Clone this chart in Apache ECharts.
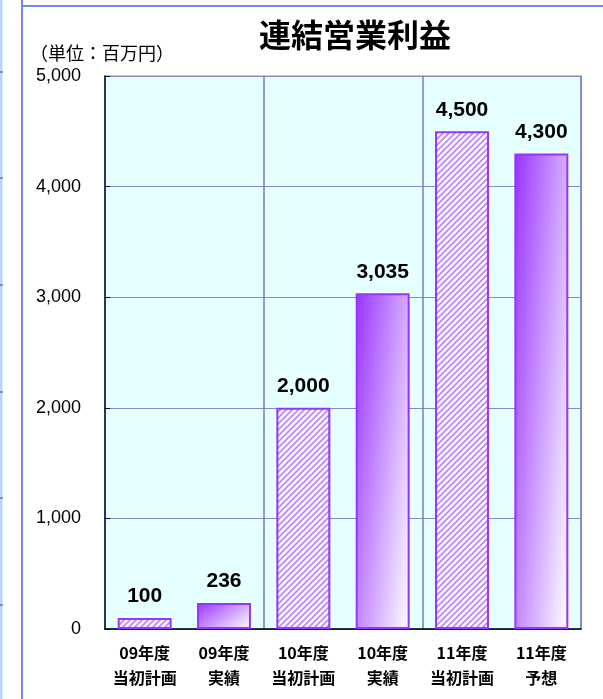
<!DOCTYPE html>
<html>
<head>
<meta charset="utf-8">
<script src="https://cdn.jsdelivr.net/npm/echarts@6/dist/echarts.min.js"></script>
<style>
html,body{margin:0;padding:0;background:#fff;}
#c{width:603px;height:699px;}
</style>
</head>
<body>
<div id="c"></div>
<script>
var titleText = '連結営業利益';
var unitText = '（単位：百万円）';
var categories = ['09年度\n当初計画', '09年度\n実績', '10年度\n当初計画', '10年度\n実績', '11年度\n当初計画', '11年度\n予想'];
var values = [100, 236, 2000, 3035, 4500, 4300];
var kinds = ['plan', 'actual', 'plan', 'actual', 'plan', 'forecast'];
var yMin = 0, yMax = 5000, yStep = 1000;

function fmt(v){ return String(v).replace(/\B(?=(\d{3})+(?!\d))/g, ','); }

// hatch pattern
var pc = document.createElement('canvas');
pc.width = 6; pc.height = 6;
var px = pc.getContext('2d');
px.fillStyle = '#ffffff'; px.fillRect(0,0,6,6);
px.strokeStyle = '#b982ff'; px.lineWidth = 1.6;
px.beginPath();
px.moveTo(-1,7); px.lineTo(7,-1);
px.moveTo(-4,4); px.lineTo(4,-4);
px.moveTo(2,10); px.lineTo(10,2);
px.stroke();

var BAR_W = '68%';

function buildData(grads){
  return values.map(function(v, i){
    var hatched = kinds[i] === 'plan';
    return {
      value: v,
      itemStyle: {
        color: hatched ? {image: pc, repeat: 'repeat'} : (grads ? grads[i] : '#9933ff'),
        borderColor: '#9933ff',
        borderWidth: 2
      }
    };
  });
}

var chart = echarts.init(document.getElementById('c'));
var option = {
  animation: false,
  backgroundColor: '#ffffff',
  title: {
    text: titleText,
    left: 350, top: 14,
    textAlign: 'center',
    textStyle: {fontSize: 32, fontWeight: 'bold', color: '#000', fontFamily: 'Noto Sans CJK JP'}
  },
  graphic: [
    {type: 'line', shape: {x1: 22, y1: 0, x2: 22, y2: 699}, style: {stroke: '#6b8cf5', lineWidth: 2}, z: 10},
    {type: 'line', shape: {x1: 21, y1: 6, x2: 603, y2: 6}, style: {stroke: '#6b8cf5', lineWidth: 2}, z: 10},
    {type: 'line', shape: {x1: 1, y1: 0, x2: 1, y2: 699}, style: {stroke: '#b8d4ff', lineWidth: 3}, z: 10},
    {type: 'line', shape: {x1: 0, y1: 72, x2: 3, y2: 72}, style: {stroke: '#334499', lineWidth: 1}, z: 11},
    {type: 'line', shape: {x1: 0, y1: 178, x2: 3, y2: 178}, style: {stroke: '#334499', lineWidth: 1}, z: 11},
    {type: 'line', shape: {x1: 0, y1: 285, x2: 3, y2: 285}, style: {stroke: '#334499', lineWidth: 1}, z: 11},
    {type: 'line', shape: {x1: 0, y1: 392, x2: 3, y2: 392}, style: {stroke: '#334499', lineWidth: 1}, z: 11},
    {type: 'line', shape: {x1: 0, y1: 498, x2: 3, y2: 498}, style: {stroke: '#334499', lineWidth: 1}, z: 11},
    {type: 'line', shape: {x1: 0, y1: 605, x2: 3, y2: 605}, style: {stroke: '#334499', lineWidth: 1}, z: 11},
    {type: 'text', style: {text: unitText, x: 30, y: 53, textVerticalAlign: 'middle', font: '18px "Noto Sans CJK JP"', fill: '#000'}}
  ],
  grid: {
    left: 105, right: 22, top: 76, bottom: 70,
    show: true, backgroundColor: '#e6ffff', borderColor: '#a6ccff', borderWidth: 2
  },
  xAxis: {
    type: 'category',
    data: categories,
    axisLine: {show: true, lineStyle: {color: '#000', width: 1.5}},
    axisTick: {show: false},
    splitLine: {show: true, interval: function(i){ return i === 2 || i === 4; }, lineStyle: {color: '#7777cc', width: 1.5}},
    axisLabel: {
      interval: 0, margin: 11, fontSize: 16, fontWeight: 'bold', lineHeight: 25,
      color: '#000', fontFamily: 'Noto Sans CJK JP'
    }
  },
  yAxis: {
    type: 'value',
    min: yMin, max: yMax, interval: yStep,
    axisLine: {show: true, lineStyle: {color: '#000033', width: 1.5}},
    axisTick: {show: true, inside: true, length: 5, lineStyle: {color: '#000033'}},
    splitLine: {show: true, lineStyle: {color: '#8888cc', width: 1}},
    axisLabel: {margin: 24, fontSize: 18, color: '#000', fontFamily: 'Liberation Sans', formatter: fmt}
  },
  series: [{
    type: 'bar',
    data: buildData(null),
    barWidth: BAR_W,
    label: {
      show: true, position: 'top', distance: 11,
      fontSize: 21, fontWeight: 'bold', color: '#000', fontFamily: 'Liberation Sans',
      formatter: function(p){ return fmt(p.value); }
    }
  }]
};
chart.setOption(option);

// second pass: gradient whose direction adapts to each bar's pixel size
var p0 = chart.convertToPixel({gridIndex: 0}, [0, 0]);
var p1 = chart.convertToPixel({gridIndex: 0}, [1, 0]);
var w = Math.abs(p1[0] - p0[0]) * 0.68;
var a = 0.6, b = 0.4;
var grads = values.map(function(v, i){
  var top = chart.convertToPixel({gridIndex: 0}, [i, v]);
  var h = Math.max(2, Math.abs(p0[1] - top[1]));
  var vv = a * a / (w * w) + b * b / (h * h);
  var rx = a / (w * w * vv);
  var ry = b / (h * h * vv);
  return new echarts.graphic.LinearGradient(0, 0, rx, ry, [
    {offset: 0, color: '#9933ff'},
    {offset: 1, color: '#ffffff'}
  ]);
});
chart.setOption({series: [{data: buildData(grads)}]});
</script>
</body>
</html>
